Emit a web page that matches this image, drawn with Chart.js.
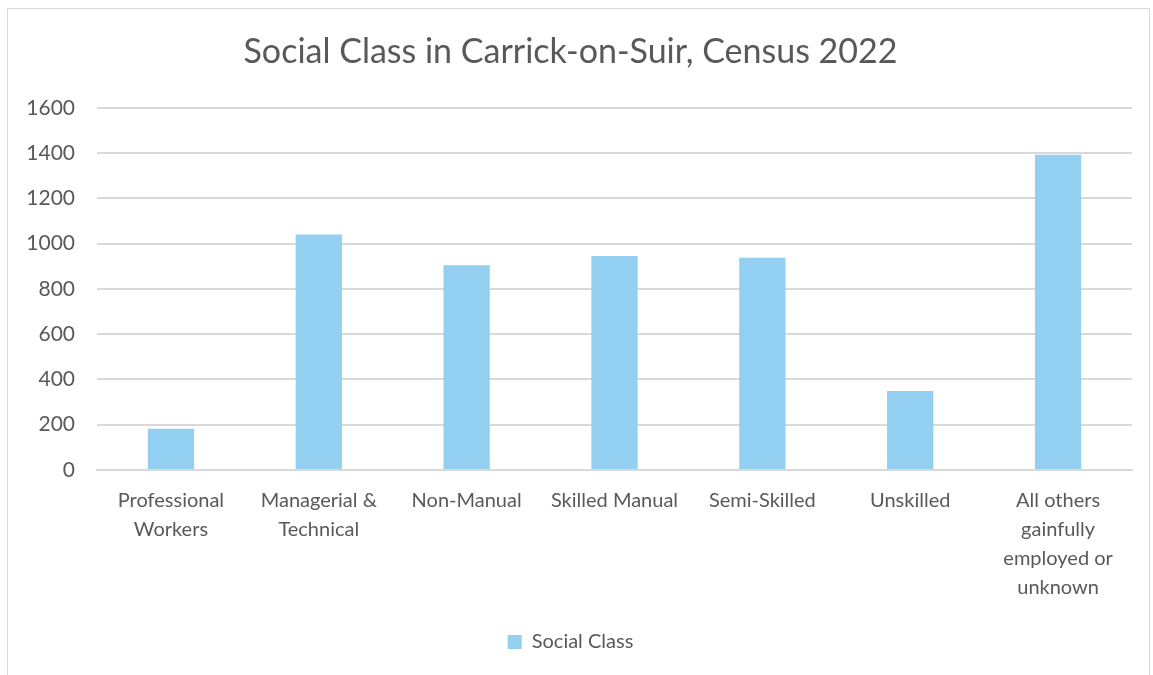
<!DOCTYPE html>
<html>
<head>
<meta charset="utf-8">
<script src="https://cdn.jsdelivr.net/npm/chart.js@4.4.0/dist/chart.umd.min.js"></script>
<style>
  html, body { margin: 0; padding: 0; background: #fff; }
  #frame {
    position: absolute; left: 7px; top: 8px;
    width: 1143px; height: 672px;
    border: 1px solid #d9d9d9; box-sizing: border-box;
  }
  #wrap { position: absolute; left: 1px; top: 1px; width: 1141px; height: 666px; }
</style>
</head>
<body>
<div id="frame"><div id="wrap"><canvas id="chart"></canvas></div></div>
<script>
const categories = [
  ['Professional', 'Workers'],
  ['Managerial &', 'Technical'],
  'Non-Manual',
  'Skilled Manual',
  'Semi-Skilled',
  'Unskilled',
  ['All others', 'gainfully', 'employed or', 'unknown']
];
const socialClass = [182, 1040, 905, 945, 938, 349, 1393];
const yTicks = [0, 200, 400, 600, 800, 1000, 1200, 1400, 1600];

const textColor = '#595959';
const fontFamily = 'Lato, "Open Sans", sans-serif';

const ctx = document.getElementById('chart').getContext('2d');
const chart = new Chart(ctx, {
  type: 'bar',
  data: {
    labels: categories,
    datasets: [{
      label: 'Social Class',
      data: socialClass,
      backgroundColor: '#92cff0',
      categoryPercentage: 1,
      barPercentage: 0.313
    }]
  },
  options: {
    responsive: true,
    maintainAspectRatio: false,
    animation: false,
    layout: { padding: { left: 0, right: 18, top: 0, bottom: 14 } },
    plugins: {
      title: {
        display: true,
        text: 'Social Class in Carrick-on-Suir, Census 2022',
        color: textColor,
        font: { family: fontFamily, size: 34, weight: 'normal' },
        padding: { top: 22, bottom: 35 }
      },
      legend: {
        position: 'bottom',
        labels: {
          color: textColor,
          font: { family: fontFamily, size: 20 },
          boxWidth: 14,
          boxHeight: 14,
          padding: 14
        }
      },
      tooltip: { enabled: false }
    },
    scales: {
      x: {
        grid: { display: false, drawTicks: false },
        border: { color: '#d9d9d9', width: 2 },
        ticks: {
          color: textColor,
          font: { family: fontFamily, size: 20, lineHeight: 1.45 },
          autoSkip: false,
          maxRotation: 0,
          padding: 16
        }
      },
      y: {
        min: 0,
        max: 1600,
        afterBuildTicks: (scale) => { scale.ticks = yTicks.map(v => ({ value: v })); },
        afterFit: (scale) => { scale.width = 88; },
        grid: { color: '#d9d9d9', lineWidth: 2, drawTicks: false },
        border: { display: false },
        ticks: {
          color: textColor,
          font: { family: fontFamily, size: 21 },
          padding: 22,
          callback: (v) => String(v)
        }
      }
    }
  }
});
</script>
</body>
</html>
